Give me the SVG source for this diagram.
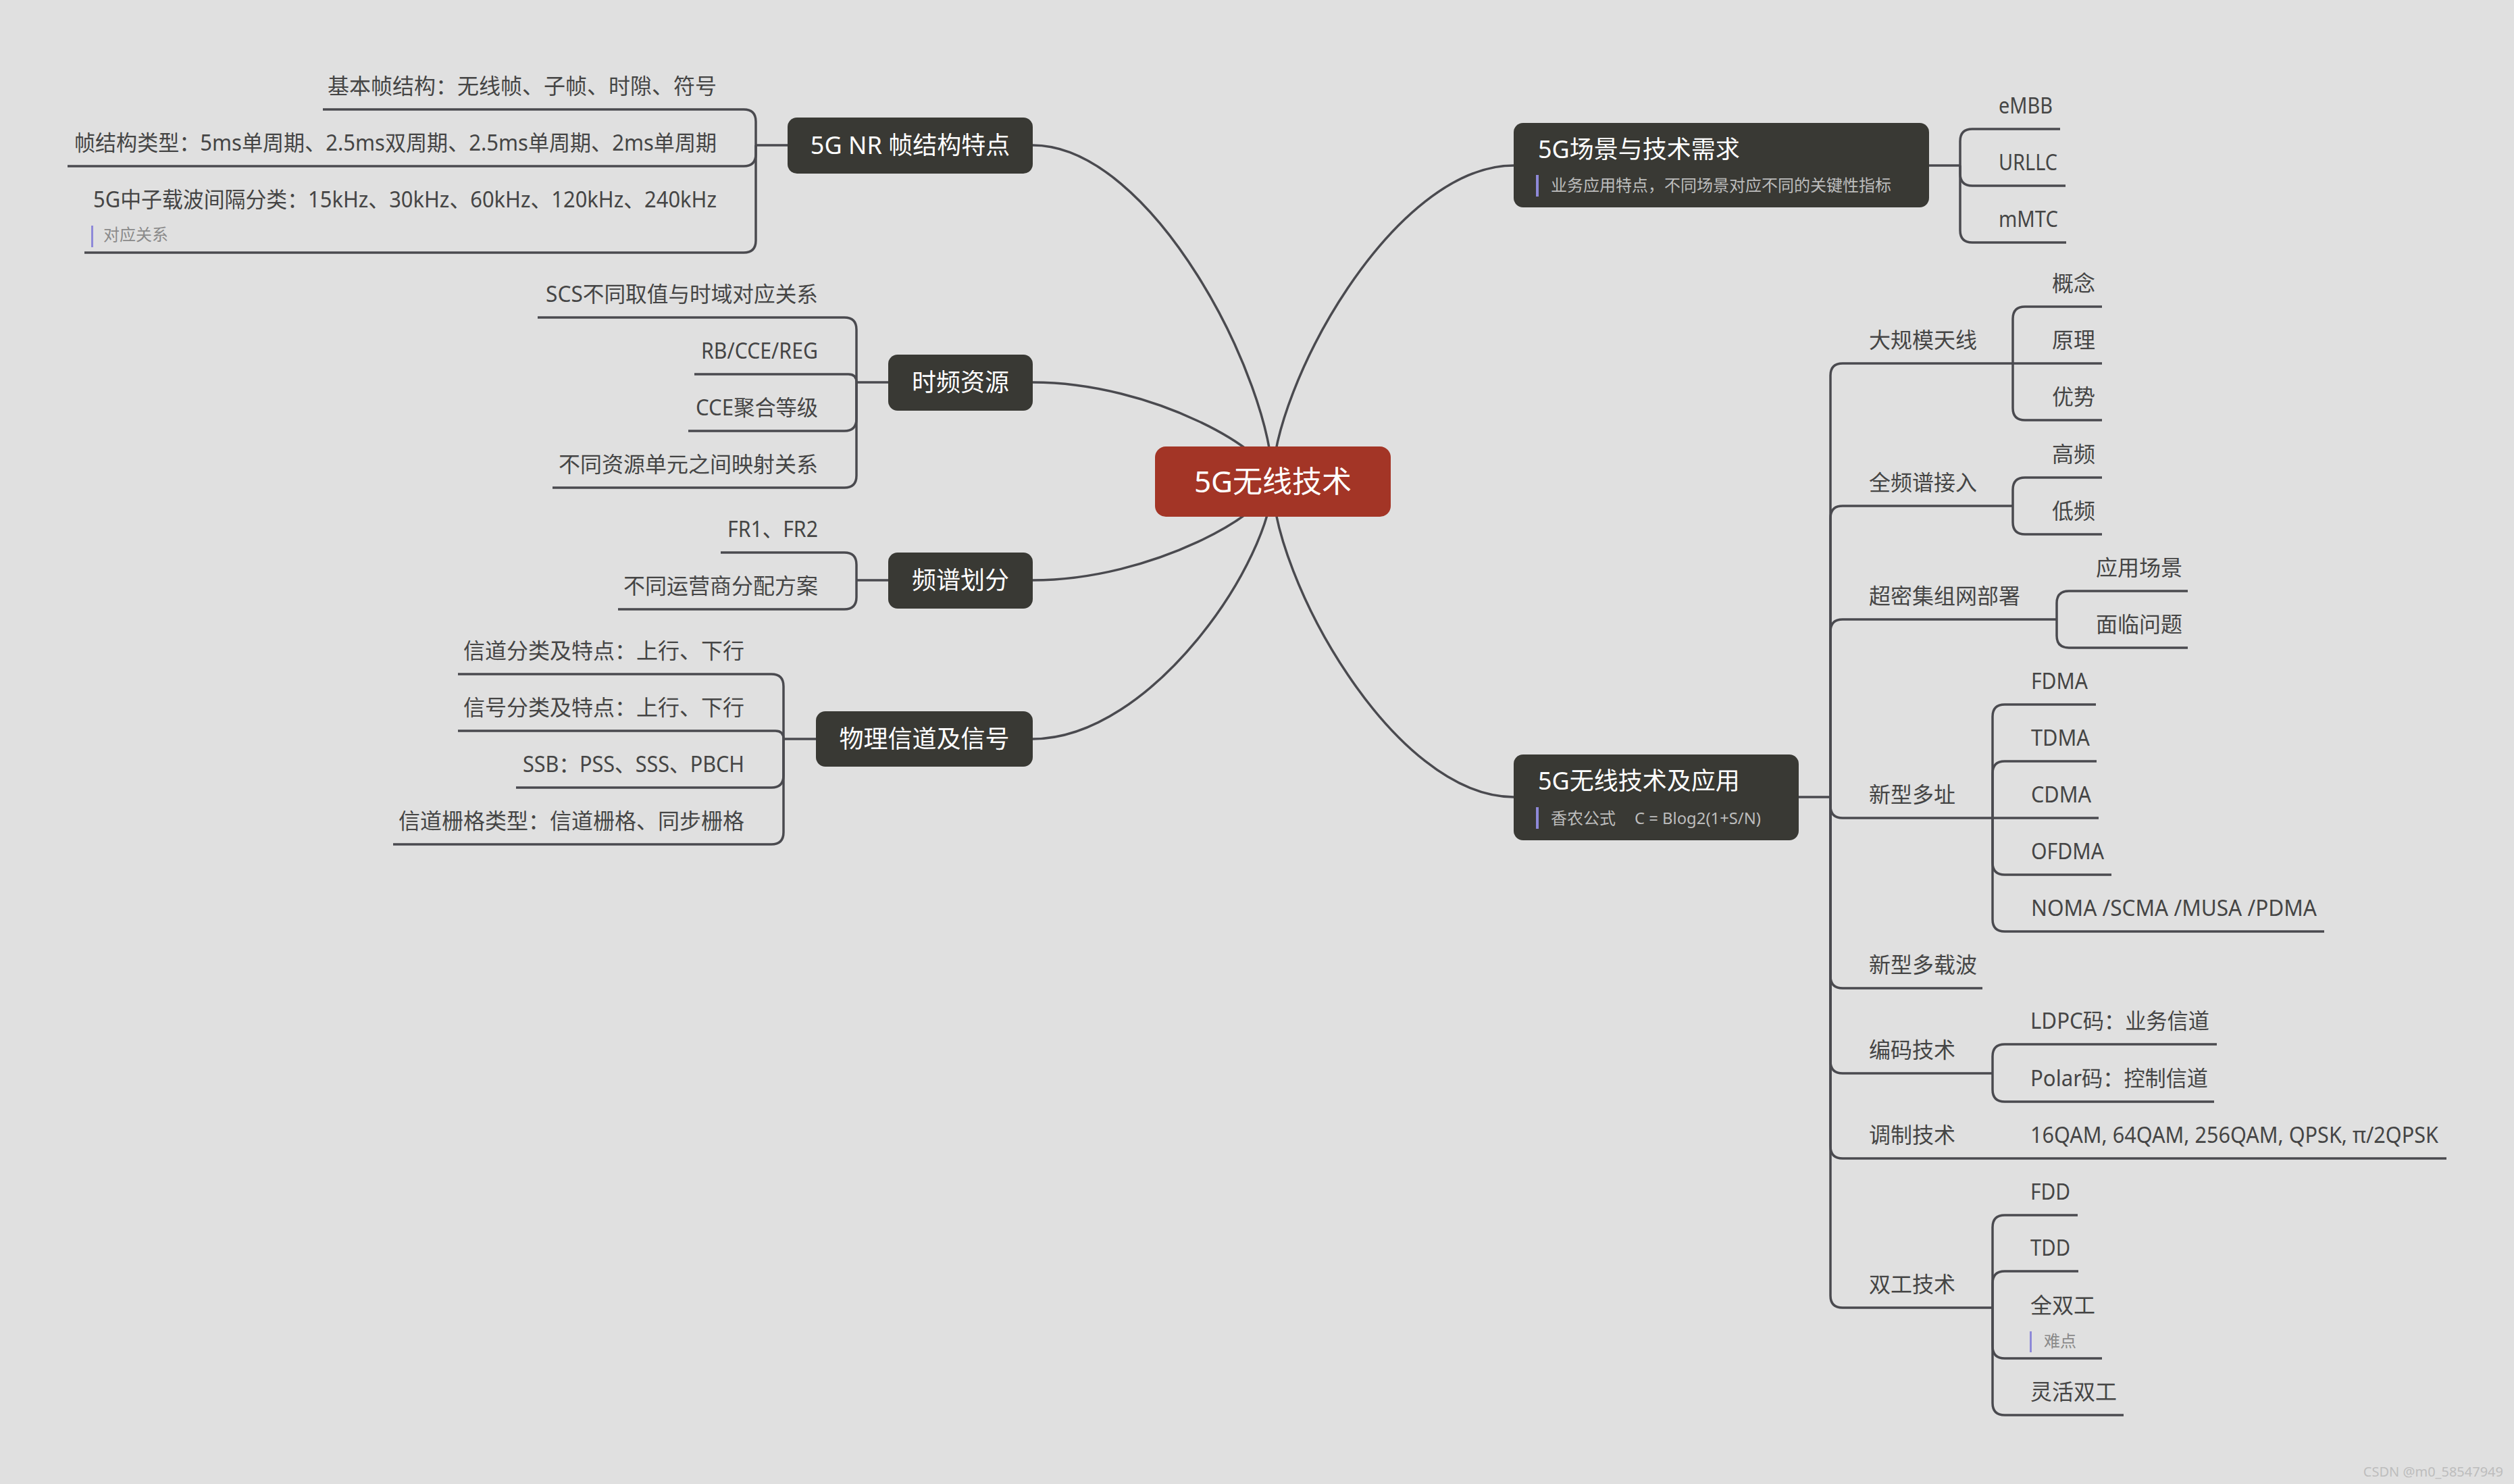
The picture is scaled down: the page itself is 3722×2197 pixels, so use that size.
<svg xmlns="http://www.w3.org/2000/svg" width="3722" height="2197" viewBox="0 0 3722 2197">
<style>
.ln{fill:none;stroke:#4a4a4f;stroke-width:3.5;stroke-linejoin:round}
.cv{fill:none;stroke:#4a4a4f;stroke-width:3.5}
text{font-family:"Noto Sans","Noto Sans CJK SC",sans-serif}
.t{font-size:32px;fill:#454545}
.e{text-anchor:end}
.dk{fill:#393934}
.nt{font-size:36px;fill:#ffffff}
.m{text-anchor:middle}
.sub{font-size:24px;fill:#bdbdbd}
.nb{font-size:24px;fill:#8a8a8a}
.bar{fill:#8e89d8}
</style>
<rect x="0" y="0" width="3722" height="2197" fill="#e0e0e0"/>
<g id="connectors">
<path class="cv" d="M1529 215 C1706.5 215 1884 563.6 1884 713"/>
<path class="cv" d="M1529 566 C1706.5 566 1884 668.9 1884 713"/>
<path class="cv" d="M1529 859 C1706.5 859 1884 756.8 1884 713"/>
<path class="cv" d="M1529 1094 C1706.5 1094 1884 827.3 1884 713"/>
<path class="cv" d="M2241 245 C2062.5 245 1884 572.6 1884 713"/>
<path class="cv" d="M2241 1180 C2062.5 1180 1884 853.1 1884 713"/>
<path class="ln" d="M1166 215 H1119"/>
<path class="ln" d="M1119 215 V180 Q1119 162 1101 162 H478"/>
<path class="ln" d="M1119 215 V228 Q1119 246 1101 246 H100"/>
<path class="ln" d="M1119 215 V356 Q1119 374 1101 374 H125"/>
<path class="ln" d="M1315 566 H1268"/>
<path class="ln" d="M1268 566 V488 Q1268 470 1250 470 H796"/>
<path class="ln" d="M1268 566 Q1268 554 1256 554 H1028"/>
<path class="ln" d="M1268 566 V620 Q1268 638 1250 638 H1019"/>
<path class="ln" d="M1268 566 V704 Q1268 722 1250 722 H818"/>
<path class="ln" d="M1315 859 H1268"/>
<path class="ln" d="M1268 859 V836 Q1268 818 1250 818 H1067"/>
<path class="ln" d="M1268 859 V884 Q1268 902 1250 902 H915"/>
<path class="ln" d="M1208 1094 H1160"/>
<path class="ln" d="M1160 1094 V1016 Q1160 998 1142 998 H678"/>
<path class="ln" d="M1160 1094 Q1160 1082 1148 1082 H678"/>
<path class="ln" d="M1160 1094 V1148 Q1160 1166 1142 1166 H764"/>
<path class="ln" d="M1160 1094 V1232 Q1160 1250 1142 1250 H582"/>
<path class="ln" d="M2856 245 H2902"/>
<path class="ln" d="M2902 245 V209 Q2902 191 2920 191 H3050"/>
<path class="ln" d="M2902 245 V257 Q2902 275 2920 275 H3058"/>
<path class="ln" d="M2902 245 V341 Q2902 359 2920 359 H3059"/>
<path class="ln" d="M2663 1180 H2710"/>
<path class="ln" d="M2710 1180 V556 Q2710 538 2728 538 H2980"/>
<path class="ln" d="M2710 1180 V767 Q2710 749 2728 749 H2980"/>
<path class="ln" d="M2710 1180 V935 Q2710 917 2728 917 H3045"/>
<path class="ln" d="M2710 1180 V1193 Q2710 1211 2728 1211 H2950"/>
<path class="ln" d="M2710 1180 V1445 Q2710 1463 2728 1463 H2935"/>
<path class="ln" d="M2710 1180 V1571 Q2710 1589 2728 1589 H2950"/>
<path class="ln" d="M2710 1180 V1697 Q2710 1715 2728 1715 H2950"/>
<path class="ln" d="M2710 1180 V1918 Q2710 1936 2728 1936 H2950"/>
<path class="ln" d="M2980 538 V472 Q2980 454 2998 454 H3112"/>
<path class="ln" d="M2980 538 H3112"/>
<path class="ln" d="M2980 538 V604 Q2980 622 2998 622 H3112"/>
<path class="ln" d="M2980 749 V725 Q2980 707 2998 707 H3112"/>
<path class="ln" d="M2980 749 V773 Q2980 791 2998 791 H3112"/>
<path class="ln" d="M3045 917 V893 Q3045 875 3063 875 H3239"/>
<path class="ln" d="M3045 917 V941 Q3045 959 3063 959 H3239"/>
<path class="ln" d="M2950 1211 V1061 Q2950 1043 2968 1043 H3103"/>
<path class="ln" d="M2950 1211 V1145 Q2950 1127 2968 1127 H3104"/>
<path class="ln" d="M2950 1211 H3107"/>
<path class="ln" d="M2950 1211 V1277 Q2950 1295 2968 1295 H3126"/>
<path class="ln" d="M2950 1211 V1361 Q2950 1379 2968 1379 H3441"/>
<path class="ln" d="M2950 1589 V1564 Q2950 1546 2968 1546 H3282"/>
<path class="ln" d="M2950 1589 V1613 Q2950 1631 2968 1631 H3278"/>
<path class="ln" d="M2950 1715 H3622"/>
<path class="ln" d="M2950 1936 V1817 Q2950 1799 2968 1799 H3076"/>
<path class="ln" d="M2950 1936 V1900 Q2950 1882 2968 1882 H3077"/>
<path class="ln" d="M2950 1936 V1993 Q2950 2011 2968 2011 H3112"/>
<path class="ln" d="M2950 1936 V2077 Q2950 2095 2968 2095 H3144"/>
</g>
<g id="root">
<rect x="1710" y="661" width="349" height="104" rx="16" fill="#a33526"/>
<text x="1884.5" y="729" class="m" style="font-size:44px;fill:#ffffff">5G无线技术</text>
</g>
<g id="n-nr">
<rect class="dk" x="1166" y="174" width="363" height="83" rx="14"/>
<text class="nt m" x="1347.5" y="228">5G NR 帧结构特点</text>
</g>
<g id="n-nr-1"><text class="t e" x="1061" y="139">基本帧结构：无线帧、子帧、时隙、符号</text></g>
<g id="n-nr-2"><text class="t e" x="1061" y="223" textLength="951" lengthAdjust="spacingAndGlyphs">帧结构类型：5ms单周期、2.5ms双周期、2.5ms单周期、2ms单周期</text></g>
<g id="n-nr-3"><text class="t e" x="1061" y="307" textLength="923" lengthAdjust="spacingAndGlyphs">5G中子载波间隔分类：15kHz、30kHz、60kHz、120kHz、240kHz</text>
<rect class="bar" x="135" y="334" width="3" height="32"/>
<text class="nb" x="153" y="356">对应关系</text></g>
<g id="n-tf">
<rect class="dk" x="1315" y="525" width="214" height="83" rx="14"/>
<text class="nt m" x="1422" y="579">时频资源</text>
</g>
<g id="n-tf-1"><text class="t e" x="1211" y="447" textLength="403" lengthAdjust="spacingAndGlyphs">SCS不同取值与时域对应关系</text></g>
<g id="n-tf-2"><text class="t e" x="1211" y="531" textLength="173" lengthAdjust="spacingAndGlyphs">RB/CCE/REG</text></g>
<g id="n-tf-3"><text class="t e" x="1211" y="615" textLength="181" lengthAdjust="spacingAndGlyphs">CCE聚合等级</text></g>
<g id="n-tf-4"><text class="t e" x="1211" y="699">不同资源单元之间映射关系</text></g>
<g id="n-sp">
<rect class="dk" x="1315" y="818" width="214" height="83" rx="14"/>
<text class="nt m" x="1422" y="872">频谱划分</text>
</g>
<g id="n-sp-1"><text class="t e" x="1211" y="795" textLength="134" lengthAdjust="spacingAndGlyphs">FR1、FR2</text></g>
<g id="n-sp-2"><text class="t e" x="1211" y="879">不同运营商分配方案</text></g>
<g id="n-ph">
<rect class="dk" x="1208" y="1053" width="321" height="82" rx="14"/>
<text class="nt m" x="1368.5" y="1107">物理信道及信号</text>
</g>
<g id="n-ph-1"><text class="t e" x="1102" y="975">信道分类及特点：上行、下行</text></g>
<g id="n-ph-2"><text class="t e" x="1102" y="1059">信号分类及特点：上行、下行</text></g>
<g id="n-ph-3"><text class="t e" x="1102" y="1143" textLength="328" lengthAdjust="spacingAndGlyphs">SSB：PSS、SSS、PBCH</text></g>
<g id="n-ph-4"><text class="t e" x="1102" y="1227">信道栅格类型：信道栅格、同步栅格</text></g>
<g id="n-sc">
<rect class="dk" x="2241" y="182" width="615" height="125" rx="14"/>
<text class="nt" x="2277" y="234">5G场景与技术需求</text>
<rect class="bar" x="2274" y="259" width="4" height="32"/>
<text class="sub" x="2296" y="283">业务应用特点，不同场景对应不同的关键性指标</text>
</g>
<g id="n-sc-1"><text class="t" x="2959" y="168" textLength="80" lengthAdjust="spacingAndGlyphs">eMBB</text></g>
<g id="n-sc-2"><text class="t" x="2959" y="252" textLength="87" lengthAdjust="spacingAndGlyphs">URLLC</text></g>
<g id="n-sc-3"><text class="t" x="2959" y="336" textLength="88" lengthAdjust="spacingAndGlyphs">mMTC</text></g>
<g id="n-wt">
<rect class="dk" x="2241" y="1117" width="422" height="127" rx="14"/>
<text class="nt" x="2277" y="1169">5G无线技术及应用</text>
<rect class="bar" x="2274" y="1195" width="4" height="32"/>
<text class="sub" x="2296" y="1220">香农公式<tspan x="2420" textLength="187" lengthAdjust="spacingAndGlyphs">C = Blog2(1+S/N)</tspan></text>
</g>
<g id="n-ma"><text class="t" x="2767" y="515">大规模天线</text></g>
<g id="n-ma-1"><text class="t" x="3038" y="431">概念</text></g>
<g id="n-ma-2"><text class="t" x="3038" y="515">原理</text></g>
<g id="n-ma-3"><text class="t" x="3038" y="599">优势</text></g>
<g id="n-fs"><text class="t" x="2767" y="726">全频谱接入</text></g>
<g id="n-fs-1"><text class="t" x="3038" y="684">高频</text></g>
<g id="n-fs-2"><text class="t" x="3038" y="768">低频</text></g>
<g id="n-ud"><text class="t" x="2767" y="894">超密集组网部署</text></g>
<g id="n-ud-1"><text class="t" x="3103" y="852">应用场景</text></g>
<g id="n-ud-2"><text class="t" x="3103" y="936">面临问题</text></g>
<g id="n-mx"><text class="t" x="2767" y="1188">新型多址</text></g>
<g id="n-mx-1"><text class="t" x="3007" y="1020" textLength="84" lengthAdjust="spacingAndGlyphs">FDMA</text></g>
<g id="n-mx-2"><text class="t" x="3007" y="1104" textLength="87" lengthAdjust="spacingAndGlyphs">TDMA</text></g>
<g id="n-mx-3"><text class="t" x="3007" y="1188" textLength="89" lengthAdjust="spacingAndGlyphs">CDMA</text></g>
<g id="n-mx-4"><text class="t" x="3007" y="1272" textLength="108" lengthAdjust="spacingAndGlyphs">OFDMA</text></g>
<g id="n-mx-5"><text class="t" x="3007" y="1356" textLength="423" lengthAdjust="spacingAndGlyphs">NOMA /SCMA /MUSA /PDMA</text></g>
<g id="n-mc"><text class="t" x="2767" y="1440">新型多载波</text></g>
<g id="n-cd"><text class="t" x="2767" y="1566">编码技术</text></g>
<g id="n-cd-1"><text class="t" x="3006" y="1523" textLength="265" lengthAdjust="spacingAndGlyphs">LDPC码：业务信道</text></g>
<g id="n-cd-2"><text class="t" x="3006" y="1608" textLength="263" lengthAdjust="spacingAndGlyphs">Polar码：控制信道</text></g>
<g id="n-md"><text class="t" x="2767" y="1692">调制技术</text></g>
<g id="n-md-1"><text class="t" x="3006" y="1692" textLength="604" lengthAdjust="spacingAndGlyphs">16QAM, 64QAM, 256QAM, QPSK, π/2QPSK</text></g>
<g id="n-dx"><text class="t" x="2767" y="1913">双工技术</text></g>
<g id="n-dx-1"><text class="t" x="3006" y="1776" textLength="59" lengthAdjust="spacingAndGlyphs">FDD</text></g>
<g id="n-dx-2"><text class="t" x="3006" y="1859" textLength="59" lengthAdjust="spacingAndGlyphs">TDD</text></g>
<g id="n-dx-3"><text class="t" x="3006" y="1944">全双工</text>
<rect class="bar" x="3005" y="1971" width="3" height="31"/>
<text class="nb" x="3026" y="1994">难点</text></g>
<g id="n-dx-4"><text class="t" x="3006" y="2072">灵活双工</text></g>
<text x="3706" y="2186" text-anchor="end" style="font-size:20px;fill:#bdbdbd">CSDN @m0_58547949</text>
</svg>
